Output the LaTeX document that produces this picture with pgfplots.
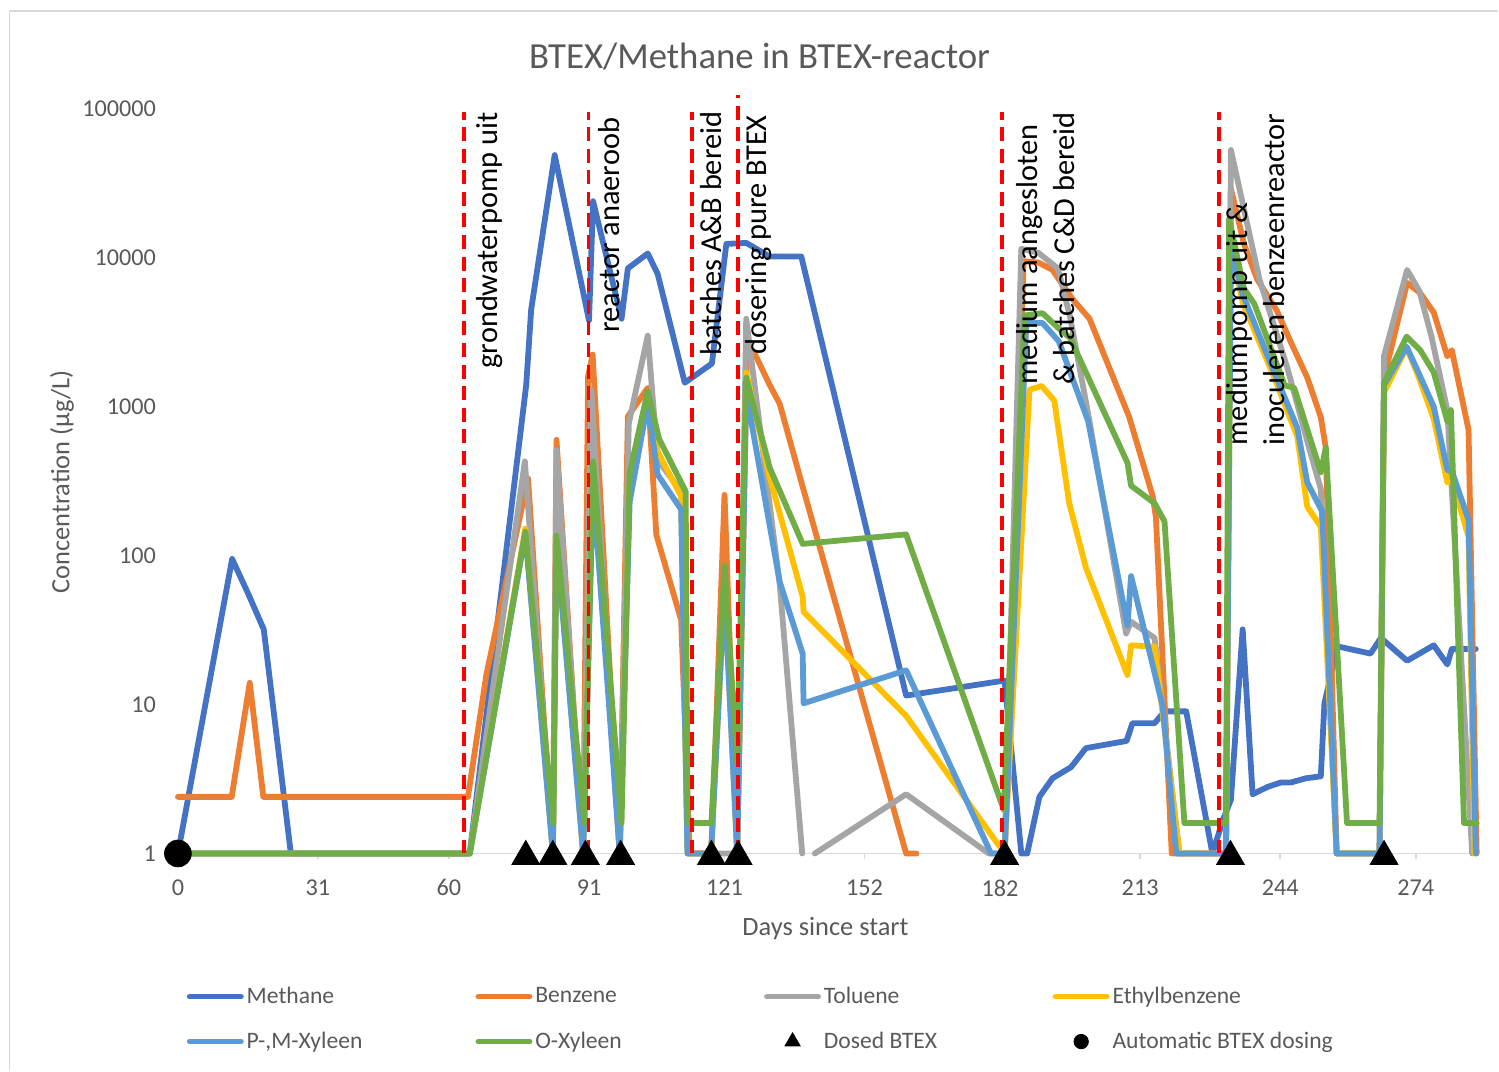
\documentclass[border=0pt]{standalone}
\usepackage{fontspec}
\setmainfont{Carlito}
\usepackage{pgfplots}
\pgfplotsset{compat=1.18}

\definecolor{cMeth}{HTML}{4472C4}
\definecolor{cBenz}{HTML}{ED7D31}
\definecolor{cTol}{HTML}{A5A5A5}
\definecolor{cEth}{HTML}{FFC000}
\definecolor{cPMX}{HTML}{5B9BD5}
\definecolor{cOX}{HTML}{70AD47}
\definecolor{txt}{HTML}{595959}
\definecolor{axl}{HTML}{D9D9D9}

\pgfplotsset{
  ser/.style={line width=2.9pt, line join=round, line cap=round, mark=none},
  event/.style={red, line width=1.9pt, dash pattern=on 7pt off 3.8pt, forget plot},
}

\begin{document}
\begin{tikzpicture}
% page extent and chart frame
\path (-84.5pt,-108.5pt) rectangle (665pt,427pt);
\draw[axl, line width=0.9pt] (-79.75pt,-108.5pt) -- (-79.75pt,421.5pt) -- (665pt,421.5pt);

\begin{axis}[
  at={(0,0)}, anchor=south west, scale only axis,
  width=654.5pt, height=372.5pt,
  xmin=-2, xmax=287.6,
  ymode=log, ymin=1, ymax=100000,
  clip=false,
  unbounded coords=jump,
  axis x line*=bottom, axis y line*=left,
  y axis line style={draw=none},
  x axis line style={draw=axl, line width=0.9pt, -},
  xtick={0,31,60,91,121,152,182,213,244,274},
  xticklabels={0,31,60,91,121,152,182,213,244,274},
  ytick={1,10,100,1000,10000,100000},
  yticklabels={1,10,100,1000,10000,100000},
  yminorticks=false,
  xtick style={draw=axl, line width=0.9pt},
  ytick style={draw=none},
  tick align=outside, major tick length=3pt,
  ticklabel style={font=\fontsize{12.1}{14}\selectfont, text=txt},
  xticklabel style={yshift=-6.5pt},
  yticklabel style={xshift=0pt},
  title={BTEX/Methane in BTEX-reactor},
  title style={font=\fontsize{18.4}{22}\selectfont, text=txt, at={(axis description cs:0.4515,1.0537)}, anchor=center},
  xlabel={Days since start},
  ylabel={Concentration (µg/L)},
  every axis x label/.style={at={(axis description cs:0.5019,-0.1007)}, anchor=center, font=\fontsize{13.2}{16}\selectfont, text=txt},
  every axis y label/.style={at={(axis description cs:-0.0817,0.4993)}, rotate=90, anchor=center, font=\fontsize{13.2}{16}\selectfont, text=txt},
  legend columns=4,
  legend cell align=left,
  legend image code/.code={%
    \path (0pt,0pt) (28.5pt,0pt);
    \draw[mark repeat=2,mark phase=2,#1] plot coordinates {(1.45pt,0pt) (14.25pt,0pt) (27.05pt,0pt)};},
  legend style={at={(axis description cs:0.0115,-0.162)}, anchor=north west, draw=none, fill=none,
    inner sep=0pt, outer sep=0pt, font=\fontsize{11.8}{14}\selectfont, text=txt,
    nodes={inner xsep=0pt, inner ysep=1pt, minimum height=22.5pt},
    /tikz/every even column/.append style={column sep=0pt}},
]

% Methane
\addplot[ser, cMeth] table[x=d, y=c] {
d c
0 1
12 95
15.5 56
19 32
25 1
64.6 1
77.1 1400
78.2 4500
83.4 49000
91 3800
91.9 24000
98.2 3900
99.6 8500
104 10700
106.2 7800
112.2 1450
118.2 1950
121.4 12400
125.8 12600
131 10200
138 10200
161.2 11.5
183 14.5
186.7 1
188 1
190.7 2.4
193.6 3.2
197.7 3.8
201 5.1
210 5.7
211.3 7.5
216.2 7.5
218.4 9
223.2 9
229 1
231.4 1.7
233.1 2.3
235.7 32
237.9 2.5
241.2 2.8
244.2 3.0
246.4 3.0
249.7 3.2
253 3.3
253.8 10.2
256.7 24.6
264 22
266.3 28
272.1 19.7
278 25
281 18.6
282 23.6
287.3 23.6
};
\addlegendentry{\makebox[113pt][l]{Methane}}

% Benzene
\addplot[ser, cBenz] table[x=d, y=c] {
d c
0 2.4
11.9 2.4
15.9 14
18.9 2.4
64.2 2.4
68.3 16
77.5 330
83 1
83.8 600
89.7 1
90.8 1600
91.8 2240
97.8 1
99.6 860
104 1340
105.9 138
111.4 37
113.3 1
118.1 1
121 256
123.8 1
126 2600
127.6 2300
131 1400
133.2 1050
138.3 290
161.2 1
163.5 1
nan nan
183 1
187.2 9500
190.5 9300
193.6 8300
198 5300
201.8 3900
210.6 850
215.8 250
216.5 180
220 1
232 1
233.1 29000
236 12400
238.9 7200
243.3 4400
246.4 2700
250 1570
253 850
254.1 530
256.5 1
266 1
267 1570
272.1 6800
275 5800
278 4300
281 2180
282 2400
285.7 700
287.5 1
};
\addlegendentry{\makebox[113pt][l]{Benzene}}

% Toluene
\addplot[ser, cTol] table[x=d, y=c] {
d c
0 1
64.6 1
76.8 430
83 1
83.8 510
89.7 1
91.5 1300
97.8 1
99.8 770
104 3000
106.2 440
111.4 270
112.8 1
123.8 1
125.8 3900
133.2 65
138.2 1
nan nan
141 1
161.2 2.5
179.5 1
183 1
186.7 11500
190.5 10800
194.8 8500
197.5 4000
201.8 800
209.9 30
211 36
216.2 28
221.7 1
232 1
233.1 53000
239.4 7200
245.6 1820
250.4 530
253 280
256.5 1
266 1
267 2200
272.1 8300
274.8 6000
277.5 2960
281 950
286.5 1
};
\addlegendentry{\makebox[113pt][l]{Toluene}}

% Ethylbenzene
\addplot[ser, cEth] table[x=d, y=c] {
d c
0 1
64.6 1
76.9 152
83 1
83.8 130
89.7 1
91.9 420
97.8 1
100 300
104 1200
106.2 500
111.4 250
112.8 1
118 1
121 60
123.8 1
125.8 1700
131 336
138.3 53
138.5 42
161.2 8.4
183 1
188.5 1300
191.2 1380
194 1100
197.3 225
201 83
210.2 15.8
211 25
216.2 24.5
221.7 1
232 1
233.1 12000
235.7 5000
242.7 1570
247.8 630
250 213
253 156
256.5 1
266 1
267 1250
272 2500
274.6 1600
278 830
281 310
282 330
285.7 134
287 1
};
\addlegendentry{\makebox[113pt][l]{Ethylbenzene}}

% P-,M-Xyleen
\addplot[ser, cPMX] table[x=d, y=c] {
d c
0 1
64.6 1
76.9 140
83 1
83.8 125
89.7 1
91.9 300
97.8 1
100 230
104 1070
106.2 350
111.4 204
112.8 1
118 1
121 60
123.8 1
125.8 1240
133.2 67
138.3 22
138.5 10.2
161.2 17
180 1
183 1
187.8 3650
191.4 3650
195 2750
201.5 800
210.2 34
211 73
218 9.7
221 1
232 1
233.1 12000
235.7 5700
242.7 1700
247.8 720
250 310
253.3 198
256.5 1
266 1
267 1400
272 2530
274.6 1700
278 1000
281 377
282 370
285.7 174
287.3 1
};
\addlegendentry{\makebox[113pt][l]{P-,M-Xyleen}}

% O-Xyleen
\addplot[ser, cOX] table[x=d, y=c] {
d c
0 1
64.6 1
76.9 145
83.1 1.6
83.8 136
90 1.6
91.9 430
98.2 1.6
100 360
104 1270
106.5 610
112.4 270
112.8 1.6
118.1 1.6
121 85
123.8 4
125.8 1570
131 390
138.3 120
161.2 139
182.8 1.97
187.4 4100
191.4 4250
194.8 3400
197.5 2900
210.2 420
211 295
216.2 225
218.4 170
222.8 1.6
232 1.6
232.7 18300
236 6200
238.3 4900
245 1390
247.1 1340
253 363
254.1 530
258.8 1.6
266 1.6
267 1450
272 2960
275 2400
278 1700
281 800
281.8 950
284.7 1.6
287.5 1.6
};
\addlegendentry{\makebox[113pt][l]{O-Xyleen}}

% dosing events
\addplot[only marks, mark=triangle*, mark size=8pt, black, mark options={yshift=-1.5pt},
  legend image post style={mark size=4.4pt, mark options={yshift=0pt}}] table[x=d, y=c] {
d c
77 1
83 1
90.2 1
98 1
118.1 1
124 1
183 1
233 1
267 1
};
\addlegendentry{\makebox[113pt][l]{Dosed BTEX}}

\addplot[only marks, mark=*, mark size=6.7pt, black,
  legend image post style={mark size=3.6pt}] table[x=d, y=c] {
d c
0 1
};
\addlegendentry{\makebox[113pt][l]{Automatic BTEX dosing}}

% operational changes
\addplot[event] coordinates {(63.4,1) (63.4,95000)};
\addplot[event] coordinates {(90.9,1) (90.9,95000)};
\addplot[event] coordinates {(113.8,1) (113.8,95000)};
\addplot[event] coordinates {(124,1) (124,125000)};
\addplot[event] coordinates {(182.4,1) (182.4,95000)};
\addplot[event] coordinates {(230.5,1) (230.5,95000)};

\end{axis}

\begin{scope}[every node/.style={rotate=90, anchor=north west, inner sep=0pt, align=left, text=black, font=\fontsize{15.2}{18.5}\selectfont}]
\node at (153.5pt,242.5pt) {grondwaterpomp uit};
\node at (214.5pt,260.5pt) {reactor anaeroob};
\node at (265.5pt,249pt) {batches A\&B bereid};
\node at (288pt,249.5pt) {dosering pure BTEX};
\node at (424pt,234.5pt) {medium aangesloten\\\& batches C\&D bereid};
\node at (529pt,204pt) {mediumpomp uit \&\\inoculeren benzeenreactor};
\end{scope}
\end{tikzpicture}
\end{document}
